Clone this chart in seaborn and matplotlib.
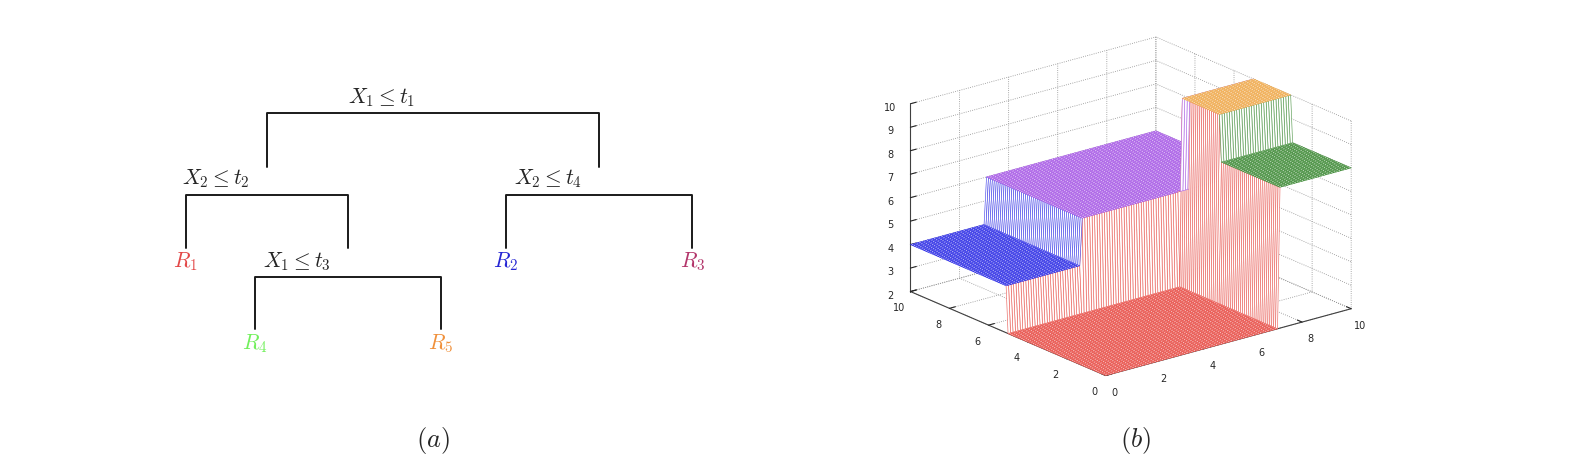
import numpy as np
import pandas as pd
import matplotlib
matplotlib.use("Agg")
import matplotlib.pyplot as plt
import seaborn as sns
from matplotlib.colors import to_rgba
from mpl_toolkits.mplot3d import proj3d

# ---- tree (a) ----
split_texts = [r'$X_1 \leq t_1$', r'$X_2 \leq t_2$', r'$X_2 \leq t_4$', r'$X_1 \leq t_3$']
leaf_texts = [r'$R_1$', r'$R_2$', r'$R_3$', r'$R_4$', r'$R_5$']
leaf_colors = ['#e34848', '#2626d4', '#b3366b', '#72f05c', '#f0913c']

# ---- piecewise constant surface (b) ----
t1, t2, t3, t4 = 5, 7, 3, 3
region_heights = [2, 4, 6, 8, 10]          # R1..R5
region_colors = ['#e84a43', '#2b2be6', '#a657e6', '#3d8a35', '#f0a848']
x_ticks = [0, 2, 4, 6, 8, 10]
y_ticks = [0, 2, 4, 6, 8, 10]
z_ticks = [2, 3, 4, 5, 6, 7, 8, 9, 10]

# layout of the tree, in pixels of the left half (y down)
brackets = [(113, 266.7, 599.3, 166.5), (195, 185.7, 348.3, 248.3),
            (195, 505.7, 692.3, 248.3), (276.7, 255, 441, 329.3)]
split_pos = [(381.7, 98), (216, 179), (548.3, 179), (297, 262)]
leaf_pos = [(185, 262), (505.7, 262), (692.3, 262), (255, 344), (441, 344)]

W, H = 1573, 472
sns.set_style("white")
plt.rcParams['mathtext.fontset'] = 'cm'
plt.rcParams['grid.linestyle'] = ':'
plt.rcParams['grid.color'] = '0.55'
plt.rcParams['grid.linewidth'] = 0.6

fig = plt.figure(figsize=(W / 100, H / 100), dpi=100)

# tree panel
ax = fig.add_axes([0, 0, 786.5 / W, 1])
rows = []
for k, (yb, xl, xr, ybot) in enumerate(brackets):
    for px, py in [(xl, ybot), (xl, yb), (xr, yb), (xr, ybot)]:
        rows.append({'x': px, 'y': py, 'seg': k})
edges = pd.DataFrame(rows)
sns.lineplot(data=edges, x='x', y='y', units='seg', estimator=None, sort=False,
             color='0.1', lw=1.4, ax=ax)
for txt, (px, py) in zip(split_texts, split_pos):
    ax.text(px, py, txt, fontsize=15.5, ha='center', va='center')
for txt, col, (px, py) in zip(leaf_texts, leaf_colors, leaf_pos):
    ax.text(px, py, txt, fontsize=15.5, ha='center', va='center', color=col)
ax.set_xlim(0, 786.5)
ax.set_ylim(H, 0)
ax.axis('off')
fig.text(433 / W, 1 - 440 / H, r'$\mathit{(a)}$', fontsize=19, ha='center', va='center')
fig.text(1136 / W, 1 - 440 / H, r'$\mathit{(b)}$', fontsize=19, ha='center', va='center')

# surface panel
g = np.linspace(0, 10, 101)
X2, X1 = np.meshgrid(g, g)     # plot x = X2, plot y = X1
region = np.where(X1 <= t1,
                  np.where(X2 <= t2, 0, np.where(X1 <= t3, 3, 4)),
                  np.where(X2 <= t4, 1, 2))
Z = np.array(region_heights)[region]

S0 = 400
ax3 = fig.add_axes([(1131 - S0 / 2) / W, (H - 206 - S0 / 2) / H, S0 / W, S0 / H],
                   projection='3d')
surf = ax3.plot_surface(X2, X1, Z, rstride=1, cstride=1, color='white',
                        shade=False, linewidth=0.45, antialiased=True)

# edge colour of every cell: region of its lowest corner, a bit paler on walls
corn_z = np.stack([Z[:-1, :-1], Z[1:, :-1], Z[:-1, 1:], Z[1:, 1:]])
corn_r = np.stack([region[:-1, :-1], region[1:, :-1], region[:-1, 1:], region[1:, 1:]])
low = np.argmin(corn_z, axis=0)
cell_r = np.take_along_axis(corn_r, low[None], 0)[0]
wall = corn_z.max(0) != corn_z.min(0)
base = np.array([to_rgba(c) for c in region_colors])
ec = base[cell_r]
ec[wall, :3] = ec[wall, :3] * 0.85 + 0.15
surf.set_edgecolor(ec.reshape(-1, 4))

ax3.set_xlim(0, 10)
ax3.set_ylim(0, 10)
ax3.set_zlim(2, 10)
ax3.set_xticks(x_ticks)
ax3.set_yticks(y_ticks)
ax3.set_zticks(z_ticks)
ax3.set_proj_type('ortho')
ax3.set_box_aspect((1, 1, 0.637))
ax3.view_init(elev=20, azim=-128.5)
ax3.grid(True)
for a in (ax3.xaxis, ax3.yaxis, ax3.zaxis):
    a.pane.fill = False
    a.pane.set_edgecolor((1, 1, 1, 0))
    a.line.set_color('0.25')
    a.line.set_linewidth(0.8)
    a.set_tick_params(labelsize=7, pad=0)
    a._axinfo['tick']['inward_factor'] = 0.0
    a._axinfo['tick']['outward_factor'] = 0.3

# fit the projected box onto the reference box position
target = np.array([910.8, 1350.8, H - 375.8, H - 36.7])
fig.canvas.draw()
corners = [(x, y, z) for x in (0, 10) for y in (0, 10) for z in (2, 10)]


def box_px():
    M = ax3.get_proj()
    pts = []
    for c in corners:
        xs, ys, _ = proj3d.proj_transform(*c, M)
        pts.append(ax3.transData.transform((xs, ys)))
    return np.array(pts)


pts = box_px()
cur_w = pts[:, 0].max() - pts[:, 0].min()
cur_h = pts[:, 1].max() - pts[:, 1].min()
k = 0.5 * ((target[1] - target[0]) / cur_w + (target[3] - target[2]) / cur_h)
pos = ax3.get_position()
ac = np.array([(pos.x0 + pos.x1) / 2 * W, (pos.y0 + pos.y1) / 2 * H])
cc = np.array([(pts[:, 0].max() + pts[:, 0].min()) / 2, (pts[:, 1].max() + pts[:, 1].min()) / 2])
tc = np.array([(target[0] + target[1]) / 2, (target[2] + target[3]) / 2])
S = S0 * k
nc = tc - (cc - ac) * k
ax3.set_position([(nc[0] - S / 2) / W, (nc[1] - S / 2) / H, S / W, S / H])

fig.savefig("out.png", dpi=100)
